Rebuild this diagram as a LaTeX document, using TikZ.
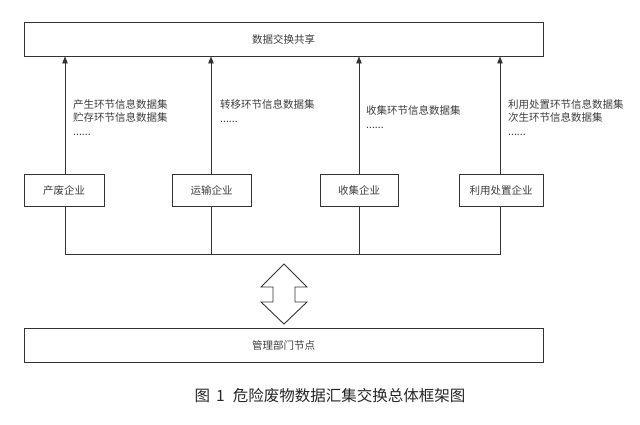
\documentclass[tikz,border=0pt]{standalone}
\usepackage{fontspec}
\newfontfamily\cjk{Noto Sans CJK SC}
\usetikzlibrary{arrows.meta}
\definecolor{ink}{HTML}{333333}
\definecolor{txt}{HTML}{3C3C3C}
\tikzset{
  box/.style={draw=ink, line width=0.9pt, inner sep=0pt, font=\cjk\fontsize{10.5}{13}\selectfont, text=txt},
  lbl/.style={inner sep=0pt, anchor=north west, align=left, font=\cjk\fontsize{10.5}{13}\selectfont, text=txt},
  flow/.style={draw=ink, line width=0.9pt, -{Triangle[length=7pt,width=5.5pt]}},
  wire/.style={draw=ink, line width=0.9pt},
}
\begin{document}
\begin{tikzpicture}[x=1pt,y=-1pt]
\useasboundingbox (0,0) rectangle (640,424);
% main boxes
\node[box, minimum width=519pt, minimum height=34pt] (share) at (283.5,39) {数据交换共享};
\node[box, minimum width=519pt, minimum height=34pt] (mgmt) at (283.5,345) {管理部门节点};
% enterprise boxes
\node[box, minimum width=80pt, minimum height=32pt] (e1) at (64,190) {产废企业};
\node[box, minimum width=79pt, minimum height=32pt] (e2) at (211.5,190) {运输企业};
\node[box, minimum width=78pt, minimum height=32pt] (e3) at (359,190) {收集企业};
\node[box, minimum width=84pt, minimum height=32pt] (e4) at (501,190) {利用处置企业};
% arrows up
\draw[flow] (e1.north -| 65,0) -- (share.south -| 65,0);
\draw[flow] (e2.north -| 211,0) -- (share.south -| 211,0);
\draw[flow] (e3.north -| 359,0) -- (share.south -| 359,0);
\draw[flow] (e4.north -| 500,0) -- (share.south -| 500,0);
% labels
\node[lbl] (l1) at (73,99) {产生环节信息数据集\\[0.5pt]贮存环节信息数据集\\[1pt]......};
\node[lbl] (l2) at (220,99) {转移环节信息数据集\\[1pt]......};
\node[lbl] (l3) at (366,105) {收集环节信息数据集\\[1pt]......};
\node[lbl] (l4) at (508,99) {利用处置环节信息数据集\\[0.5pt]次生环节信息数据集\\[1pt]......};
% bus
\coordinate (b1) at (65,254);
\coordinate (b4) at (500,254);
\draw[wire] (e1.south -| b1) -- (b1) -- (b4) -- (e4.south -| b4);
\draw[wire] (e2.south -| 211,0) -- (211,254);
\draw[wire] (e3.south -| 359,0) -- (359,254);
% double arrow
\draw[draw=ink, line width=0.9pt, line join=miter]
  (284,264) -- (307,287) -- (295,287) -- (295,302) -- (307,302) -- (284,324)
  -- (261,302) -- (273,302) -- (273,287) -- (261,287) -- cycle;
% caption
\node[inner sep=0pt, font=\cjk\fontsize{15.5}{18}\selectfont, text=black!85] (cap) at (330,396) {图\hspace{6pt}1\hspace{8pt}危险废物数据汇集交换总体框架图};
\end{tikzpicture}
\end{document}
